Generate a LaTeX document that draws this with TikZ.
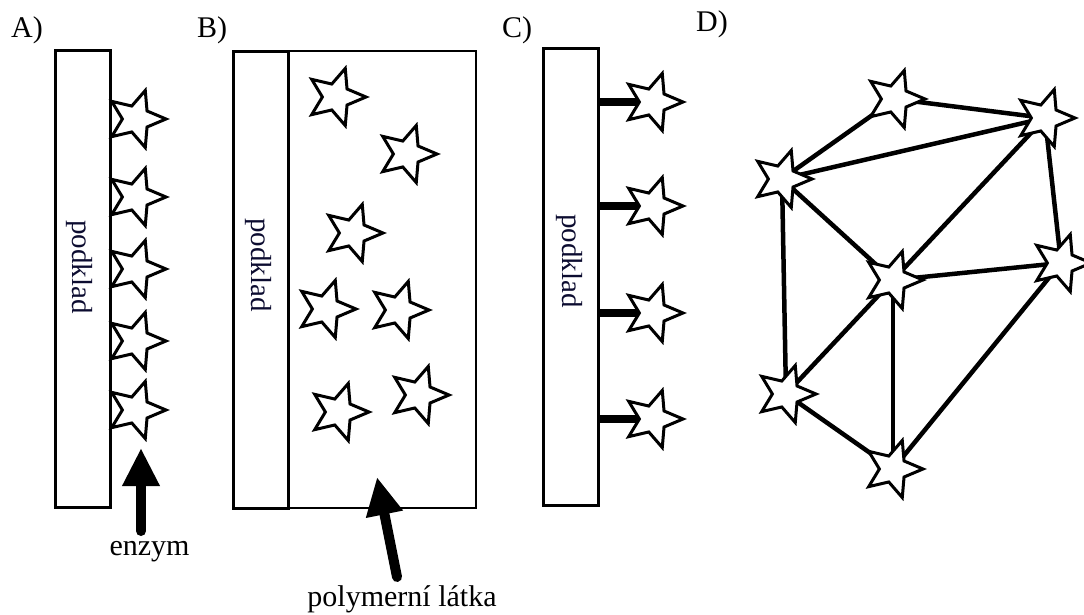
\documentclass[tikz,border=0pt]{standalone}
\usepackage{fontspec}
\setmainfont{Liberation Serif}
\usetikzlibrary{shapes.geometric,arrows.meta,backgrounds}
\definecolor{podcol}{RGB}{12,12,48}
\begin{document}
\begin{tikzpicture}[x=1pt,y=-1pt,
  lbl/.style={font=\fontsize{30}{33}\selectfont, inner sep=0pt},
  podtext/.style={font=\fontsize{29}{32}\selectfont, text=podcol, rotate=-90, inner sep=0pt},
  box/.style={draw, line width=3pt, inner sep=0pt, minimum width=55pt, minimum height=456pt},
  polybox/.style={draw, line width=1.6pt, inner sep=0pt},
  starnode/.style={star, star points=5, star point ratio=2.2, shape border rotate=-90,
    minimum size=60pt, inner sep=0pt, draw, fill=white, line width=3pt},
  bigarrow/.style={line width=10pt, line cap=round, -{Triangle[width=35pt,length=38pt]}},
  bar/.style={line width=8pt},
  edge/.style={line width=4.5pt}]
\useasboundingbox (0,0) rectangle (1084,615);

% ---------- A ----------
\node[lbl, anchor=base] (labA) at (27,38) {A)};
\node[box] (rA) at (83,279) {};
\node[podtext] (tA) at (79.5,267) {podklad};
\foreach \i/\y in {1/119,2/197,3/269,4/341,5/410}
  \node[starnode] (a\i) at (136,\y) {};
\node[lbl, anchor=base] (enz) at (149.5,555) {enzym};
\coordinate (enzTail) at (141,531);
\coordinate (enzTip) at (141,448);
\draw[bigarrow] (enzTail) -- (enzTip);

% ---------- B ----------
\node[lbl, anchor=base] (labB) at (212,38) {B)};
\node[polybox, minimum width=188pt, minimum height=457pt] (pB) at (382,279.5) {};
\node[box] (rB) at (260.5,280) {};
\node[podtext] (tB) at (258.5,265) {podklad};
\node[starnode] (b1) at (336,97) {};
\node[starnode] (b2) at (407,154) {};
\node[starnode] (b3) at (353,233) {};
\node[starnode] (b4) at (326,309) {};
\node[starnode] (b5) at (399,310) {};
\node[starnode] (b6) at (339,412) {};
\node[starnode] (b7) at (419,395) {};
\node[lbl, anchor=base] (poly) at (402,606) {polymerní látka};
\coordinate (polTail) at (397,577);
\coordinate (polTip) at (377,477);
\draw[bigarrow] (polTail) -- (polTip);

% ---------- C ----------
\node[lbl, anchor=base] (labC) at (517,38) {C)};
\node[box] (rC) at (570.5,277) {};
\node[podtext] (tC) at (569.5,261) {podklad};
\foreach \i/\y in {1/102,2/206,3/313,4/419}
  \node[starnode] (c\i) at (653,\y) {};
\begin{pgfonlayer}{background}
\foreach \i in {1,...,4}
  \draw[bar] (rC.east |- c\i) -- (c\i.center);
\end{pgfonlayer}

% ---------- D ----------
\node[lbl, anchor=base] (labD) at (712,32) {D)};
\node[starnode] (da) at (895,99) {};
\node[starnode] (db) at (1045,118) {};
\node[starnode] (dc) at (782,179) {};
\node[starnode] (dd) at (893,280) {};
\node[starnode] (de) at (1061,263) {};
\node[starnode] (df) at (786,394) {};
\node[starnode] (dg) at (893,469) {};
\begin{pgfonlayer}{background}
\foreach \p/\q in {dc/da,da/db,dc/db,dc/dd,db/dd,db/de,dd/de,dc/df,dd/df,dd/dg,df/dg,de/dg}
  \draw[edge] (\p.center) -- (\q.center);
\end{pgfonlayer}
\end{tikzpicture}
\end{document}
